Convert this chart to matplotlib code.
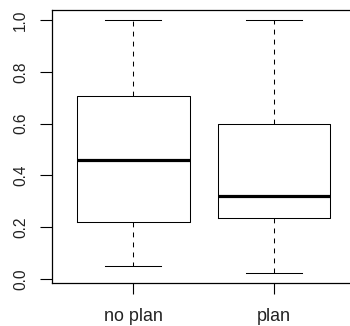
import matplotlib
matplotlib.use("Agg")
import matplotlib.pyplot as plt

plt.rcParams['font.family'] = ['Liberation Sans', 'DejaVu Sans']
plt.rcParams['lines.scale_dashes'] = False

# five-number summaries per group
groups = ["no plan", "plan"]
whisker_low = [0.05, 0.025]
quartile_1 = [0.221, 0.235]
medians = [0.459, 0.320]
quartile_3 = [0.705, 0.598]
whisker_high = [1.0, 1.0]
y_ticks = [0.0, 0.2, 0.4, 0.6, 0.8, 1.0]
y_tick_labels = ["0.0", "0.2", "0.4", "0.6", "0.8", "1.0"]

W, H, DPI = 350, 326, 100
fig = plt.figure(figsize=(W / DPI, H / DPI), dpi=DPI)

# axes placed in pixel coordinates; right edge runs past the canvas
left_px, right_px, top_px, bottom_px = 51.7, 355.6, 10.0, 282.7
ax = fig.add_axes([left_px / W, 1 - bottom_px / H,
                   (right_px - left_px) / W, (bottom_px - top_px) / H])

stats = []
for i, name in enumerate(groups):
    stats.append(dict(label=name, whislo=whisker_low[i], q1=quartile_1[i],
                      med=medians[i], q3=quartile_3[i], whishi=whisker_high[i],
                      fliers=[]))

lw = 0.75
ax.bxp(stats, positions=[1, 2], widths=0.8, showfliers=False,
       boxprops=dict(color="black", linewidth=lw),
       medianprops=dict(color="black", linewidth=2.3, solid_capstyle="butt"),
       whiskerprops=dict(color="black", linewidth=lw, linestyle=(0, (3.5, 3.7))),
       capprops=dict(color="black", linewidth=lw),
       capwidths=0.4)

ax.set_xlim(0.42, 2.58)
ax.set_ylim(-0.014, 1.039)

ax.set_yticks(y_ticks)
ax.set_yticklabels(y_tick_labels, rotation=90, va="center", fontsize=11.2,
                   color="#222222")
ax.set_xticks([1, 2])
ax.set_xticklabels(groups, fontsize=12.9, color="#222222")

ax.tick_params(axis="y", direction="out", length=8.6, width=0.8, pad=8.5)
ax.tick_params(axis="x", direction="out", length=8.2, width=0.8, pad=10)

for sp in ax.spines.values():
    sp.set_linewidth(0.9)
    sp.set_color("black")

fig.savefig("out.png", dpi=DPI)
